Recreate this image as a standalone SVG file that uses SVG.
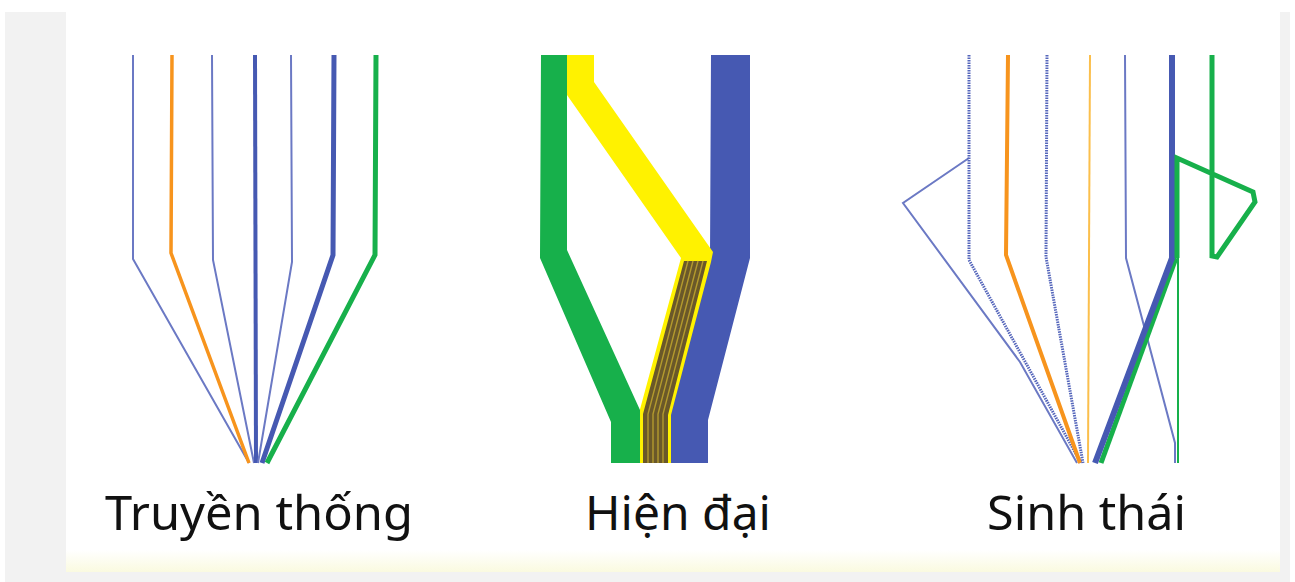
<svg xmlns="http://www.w3.org/2000/svg" width="1295" height="582" viewBox="0 0 1295 582">
  <defs>
    <linearGradient id="panelFoot" x1="0" y1="0" x2="0" y2="1">
      <stop offset="0" stop-color="#ffffff"/>
      <stop offset="1" stop-color="#fafae0"/>
    </linearGradient>
    <style>
      .ln { fill: none; stroke-linejoin: miter; stroke-linecap: butt; }
      .thin { stroke: #6b79c4; stroke-width: 2; }
      .blue { stroke: #4659b2; }
      .orange { stroke: #f7941d; }
      .green { stroke: #17b04b; }
      .hatch { stroke: #5566bb; stroke-width: 3; stroke-dasharray: 1.5 1; }
      .label { font-family: "Noto Sans", "Open Sans", sans-serif; font-size: 48px; fill: #111111; }
    </style>
  </defs>

  <!-- page background and panel -->
  <rect x="0" y="0" width="1295" height="582" fill="#ffffff"/>
  <rect x="5" y="12" width="1285" height="570" fill="#f2f2f2"/>
  <rect x="66" y="12" width="1214" height="560" fill="#ffffff"/>
  <rect x="66" y="550" width="1214" height="22" fill="url(#panelFoot)"/>

  <!-- Truyền thống: seven strands converging to one point -->
  <g id="truyen-thong">
    <polyline class="ln thin" points="133,55 133,259 249,463"/>
    <polyline class="ln orange" stroke-width="3.5" points="172,55 171,253 249,463"/>
    <polyline class="ln thin" points="212,55 213,260 254,463"/>
    <polyline class="ln blue" stroke-width="4" points="255,55 256,463"/>
    <polyline class="ln thin" points="291,55 292,262 258,463"/>
    <polyline class="ln blue" stroke-width="5" points="334,55 333,255 262,463"/>
    <polyline class="ln green" stroke-width="5" points="376,55 375,255 267,463"/>
  </g>

  <!-- Hiện đại: three broad bands, the yellow one splitting into a striped bundle -->
  <g id="hien-dai">
    <path d="M711,55 H750 V258 L708,420 V463 H669 V414 L710,258 Z" fill="#4659b2"/>
    <path d="M566,55 H594 V82 L713,252 L711,262 L671,415 V463 H639 V413 L681,258 L567,95 Z" fill="#fff200"/>
    <path d="M684,261 L707,261 L668,415 V463 H643 V414 Z" fill="#6a5829"/>
    <g fill="none" stroke="#b39a2e" stroke-width="1.4">
      <path d="M688,261 L648,414 V463"/>
      <path d="M693,261 L653,414 V463"/>
      <path d="M698,261 L658,414 V463"/>
      <path d="M703,261 L663,414 V463"/>
    </g>
    <path d="M541,55 H567 V250 L640,410 V463 H611 V422 L540,258 Z" fill="#17b04b"/>
  </g>

  <!-- Sinh thái: strands that loop, cross and rejoin -->
  <g id="sinh-thai">
    <polyline class="ln thin" points="969,158 903,203 1020,362 1077,463"/>
    <polyline class="ln hatch" points="969,55 969,260 1081,463"/>
    <polyline class="ln orange" stroke-width="4" points="1008,55 1006,255 1080,463"/>
    <polyline class="ln hatch" points="1047,55 1046,257 1083,463"/>
    <polyline class="ln" stroke="#fbbf4c" stroke-width="2" points="1090,55 1088,463"/>
    <polyline class="ln thin" points="1125,55 1126,258 1175,443 1175,463"/>
    <polyline class="ln green" stroke-width="2" points="1178,258 1178,463"/>
    <polyline class="ln green" stroke-width="5" points="1176,258 1101,463"/>
    <polyline class="ln blue" stroke-width="6" points="1172,55 1172,258 1095,463"/>
    <path class="ln green" stroke-width="5" stroke-linejoin="round" d="M1212,55 V256 L1217,257 L1255,202 L1253,192 L1177,158 V258"/>
  </g>

  <!-- captions -->
  <g id="captions">
    <text class="label" x="105" y="530" textLength="308" lengthAdjust="spacingAndGlyphs">Truyền thống</text>
    <text class="label" x="585" y="530" textLength="186" lengthAdjust="spacingAndGlyphs">Hiện đại</text>
    <text class="label" x="987" y="530" textLength="199" lengthAdjust="spacingAndGlyphs">Sinh thái</text>
  </g>
</svg>
